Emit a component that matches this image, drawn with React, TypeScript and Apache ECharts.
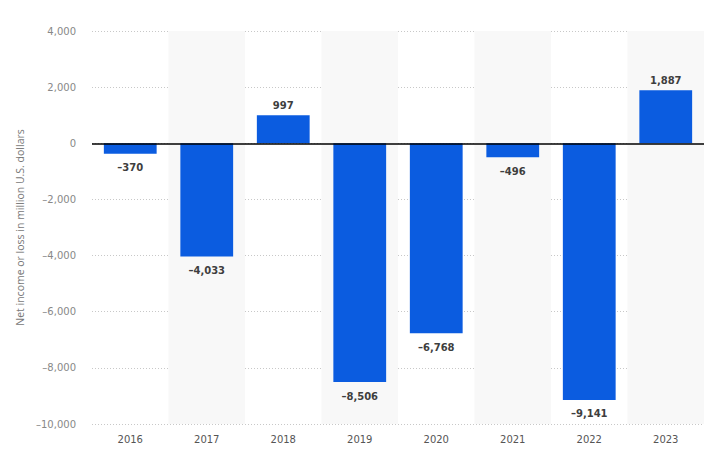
import React, { useEffect, useRef } from "react";
import * as echarts from "echarts";

const years = ["2016", "2017", "2018", "2019", "2020", "2021", "2022", "2023"];
const netIncome = [-370, -4033, 997, -8506, -6768, -496, -9141, 1887];
const yMin = -10000;
const yMax = 4000;
const yStep = 2000;
const yTitle = "Net income or loss in million U.S. dollars";

const fmt = (v: number) => {
  const s = Math.abs(v).toLocaleString("en-US");
  return v < 0 ? "\u2013" + s : s;
};

export default function App() {
  const ref = useRef<HTMLDivElement>(null);
  useEffect(() => {
    if (!ref.current) return;
    const chart = echarts.init(ref.current, undefined, { renderer: "svg" });
    chart.setOption({
      animation: false,
      backgroundColor: "#ffffff",
      grid: { left: 92, right: 11, top: 31, bottom: 38 },
      xAxis: {
        type: "category",
        data: years,
        axisLine: { show: false, onZero: false },
        axisTick: { show: false },
        axisLabel: {
          color: "#555",
          fontSize: 10,
          fontFamily: "DejaVu Sans",
          margin: 10,
        },
        splitArea: {
          show: true,
          areaStyle: { color: ["rgba(255,255,255,0)", "#f8f8f8"] },
        },
      },
      yAxis: {
        type: "value",
        min: yMin,
        max: yMax,
        interval: yStep,
        name: yTitle,
        nameLocation: "middle",
        nameGap: 60,
        nameTextStyle: { color: "#777", fontSize: 10.5, fontFamily: "Open Sans" },
        axisLine: { show: false },
        axisTick: { show: false },
        axisLabel: {
          color: "#888",
          fontSize: 10,
          fontFamily: "DejaVu Sans",
          margin: 16,
          formatter: (v: number) => fmt(v),
        },
        splitLine: { lineStyle: { color: "#c8c8c8", type: [1, 2], width: 1 } },
      },
      series: [
        {
          type: "bar",
          barCategoryGap: "31%",
          itemStyle: { color: "#0b5ce0" },
          data: netIncome.map((v) => ({
            value: v,
            label: { position: v < 0 ? "bottom" : "top", distance: v < 0 ? 9 : 5 },
          })),
          label: {
            show: true,
            color: "#3e3e3e",
            fontSize: 10,
            fontWeight: "bold",
            fontFamily: "DejaVu Sans",
            formatter: (p: any) => fmt(p.value),
          },
          markLine: {
            silent: true,
            symbol: "none",
            label: { show: false },
            lineStyle: { color: "#000", width: 1.5, type: "solid" },
            data: [{ yAxis: 0 }],
          },
        },
      ],
    });
    return () => chart.dispose();
  }, []);
  return <div ref={ref} style={{ width: 715, height: 462, position: "absolute", left: 0, top: 0 }} />;
}
